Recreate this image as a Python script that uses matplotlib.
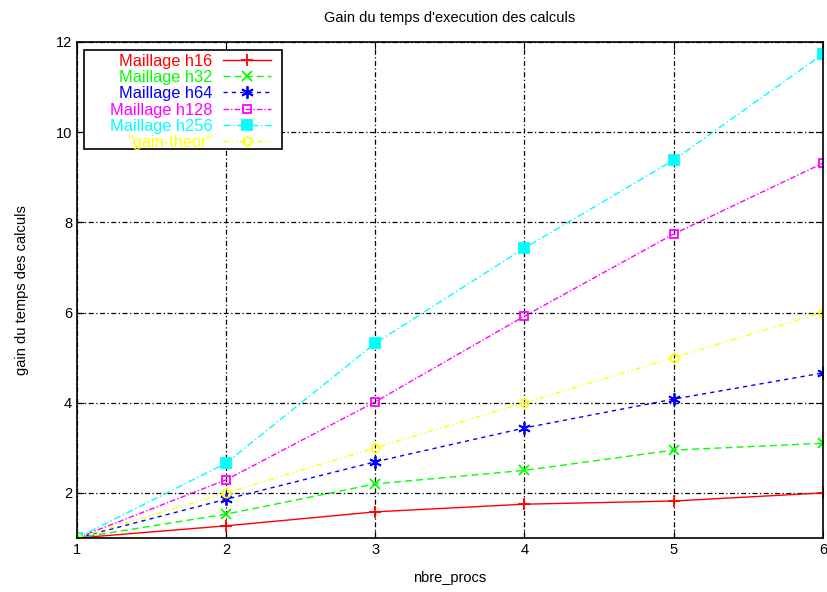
import matplotlib
matplotlib.use("Agg")
import matplotlib.pyplot as plt
from matplotlib.patches import Rectangle

plt.rcParams['font.family'] = ['Liberation Sans', 'DejaVu Sans']

nprocs = [1, 2, 3, 4, 5, 6]
gain_h16 = [1.0, 1.27, 1.58, 1.75, 1.82, 2.0]
gain_h32 = [1.0, 1.53, 2.2, 2.5, 2.95, 3.1]
gain_h64 = [1.0, 1.86, 2.69, 3.44, 4.08, 4.66]
gain_h128 = [1.0, 2.29, 4.02, 5.92, 7.74, 9.31]
gain_h256 = [1.0, 2.66, 5.32, 7.43, 9.38, 11.73]
gain_theor = [1, 2, 3, 4, 5, 6]

labels = ["Maillage h16", "Maillage h32", "Maillage h64",
          "Maillage h128", "Maillage h256", '"gain-theor"']
colors = ["#ff0000", "#00ff00", "#0000ff", "#ff00ff", "#00ffff", "#ffff00"]

styles = [
    dict(linestyle='-', marker='+', markersize=9, mfc='none'),
    dict(linestyle=(0, (5, 3)), marker='x', markersize=6.5, mfc='none'),
    dict(linestyle=(0, (3, 3)), marker=(6, 2, 0), markersize=9, mfc='none'),
    dict(linestyle=(0, (4, 1.5, 1, 1.5)), marker='s', markersize=6, mfc='none'),
    dict(linestyle=(0, (5, 2, 1, 2)), marker='s', markersize=7),
    dict(linestyle=(0, (4, 2, 1, 2, 1, 2)), marker='o', markersize=6, mfc='none'),
]

series = [gain_h16, gain_h32, gain_h64, gain_h128, gain_h256, gain_theor]

fig = plt.figure(figsize=(8.27, 5.92), dpi=100)
ax = fig.add_axes([0.093, 0.0912, 0.902, 0.838])

for ys, lab, col, st in zip(series, labels, colors, styles):
    ax.plot(nprocs, ys, color=col, label=lab, linewidth=1.0,
            markeredgewidth=1.3, **st)

ax.set_xlim(1, 6)
ax.set_ylim(1, 12)
ax.set_xticks([1, 2, 3, 4, 5, 6])
ax.set_yticks([2, 4, 6, 8, 10, 12])
ax.grid(True, color='black', linestyle=(0, (4, 2, 1, 2)), linewidth=0.9)
ax.tick_params(direction='in', top=True, right=True, labelsize=10.5, length=5)
for sp in ax.spines.values():
    sp.set_linewidth(1.2)

ax.set_title("Gain du temps d'execution des calculs", fontsize=10.5, pad=14)
ax.set_xlabel("nbre_procs", fontsize=10.5, labelpad=10)
ax.set_ylabel("gain du temps des calculs", fontsize=10.5, labelpad=19)

# key box drawn separately, gnuplot-style (wide left margin)
box = Rectangle((0.0094, 0.7843), 0.2654, 0.1996, transform=ax.transAxes,
                facecolor='white', edgecolor='black', linewidth=1.2, zorder=4)
ax.add_patch(box)

leg = ax.legend(loc='upper right', bbox_to_anchor=(0.2605, 0.9765), markerfirst=False,
                fontsize=11.8, frameon=False, handlelength=2.95, handletextpad=0.62,
                borderpad=0, labelspacing=0.08, borderaxespad=0)
leg.set_zorder(5)
for txt, col in zip(leg.get_texts(), colors):
    txt.set_color(col)
    txt.set_ha('right')

fig.savefig("out.png", dpi=100)
